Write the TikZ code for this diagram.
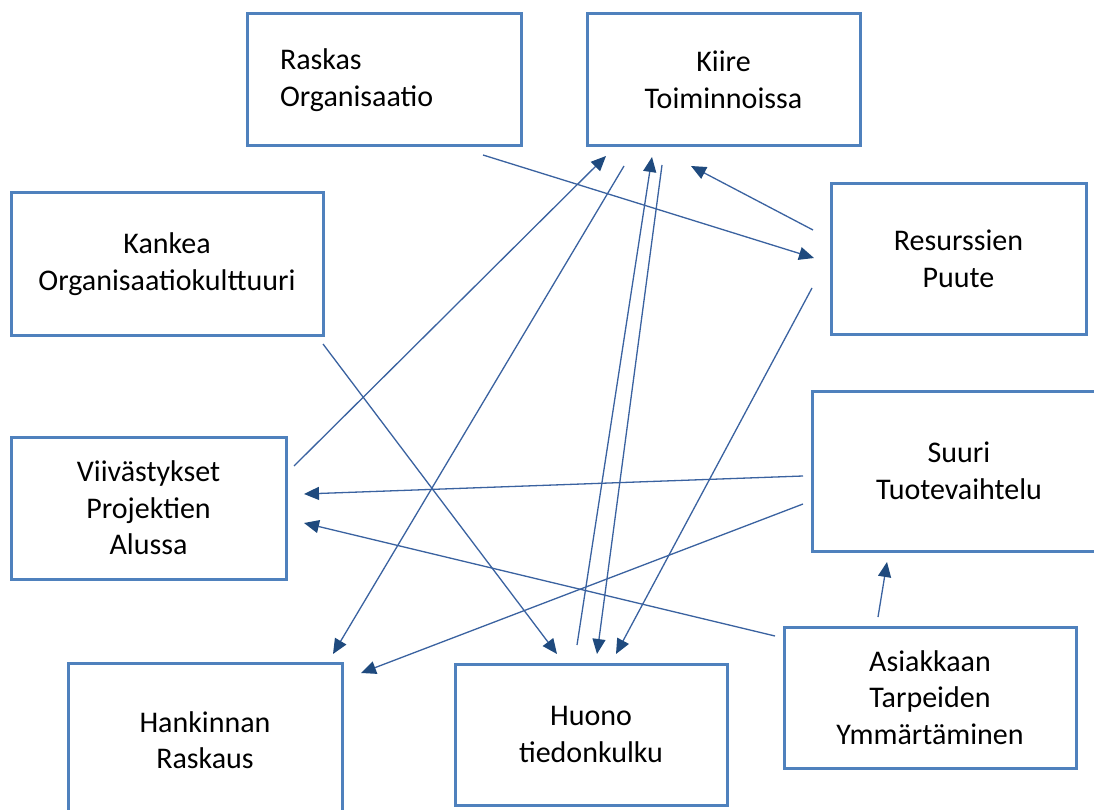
\documentclass[tikz,border=0pt]{standalone}
\usepackage{fontspec}
\setmainfont{Carlito}
\usetikzlibrary{arrows.meta}
\definecolor{boxblue}{HTML}{4F81BD}
\definecolor{linkblue}{HTML}{3A62A0}
\definecolor{headblue}{HTML}{1F4A7E}
\tikzset{
  box/.style={draw=boxblue, line width=3pt, inner sep=0pt, align=center,
    font=\fontsize{30}{36.6}\selectfont, text=black},
  link/.style={draw=linkblue, line width=1.3pt,
    -{Triangle[length=15pt,width=13pt,color=headblue]}}
}
\begin{document}
\begin{tikzpicture}[x=1pt,y=-1pt]
\clip (0,0) rectangle (1094,810);
\fill[white] (0,0) rectangle (1094,810);
% boxes (centre, width, height in px)
\node[box, minimum width=274pt, minimum height=132pt, text width=208pt, align=left] (raskas) at (384,80) {Raskas\\Organisaatio};
\node[box, minimum width=273pt, minimum height=132pt] (kiire) at (723.5,80) {Kiire\\Toiminnoissa};
\node[box, minimum width=312pt, minimum height=142pt] (kankea) at (167,264) {Kankea\\Organisaatiokulttuuri};
\node[box, minimum width=255pt, minimum height=150pt] (resurssit) at (958.5,259) {Resurssien\\Puute};
\node[box, minimum width=275pt, minimum height=142pt] (viivastys) at (148.5,508) {Viivästykset\\Projektien\\Alussa};
\node[box, minimum width=294pt, minimum height=160pt] (suuri) at (959,471) {Suuri\\Tuotevaihtelu};
\node[box, minimum width=274pt, minimum height=154pt] (hankinta) at (205,740) {Hankinnan\\Raskaus};
\node[box, minimum width=272pt, minimum height=141pt] (huono) at (591,734.5) {Huono\\tiedonkulku};
\node[box, minimum width=292pt, minimum height=141pt] (asiakas) at (930,697.5) {Asiakkaan\\Tarpeiden\\Ymmärtäminen};
% free connector ends
\coordinate (a1) at (483,155);  \coordinate (a2) at (814,258);
\coordinate (b1) at (294,466);  \coordinate (b2) at (606,156);
\coordinate (c1) at (624,166);  \coordinate (c2) at (333,654);
\coordinate (d1) at (577,645);  \coordinate (d2) at (652,157);
\coordinate (e1) at (662,165);  \coordinate (e2) at (597,654);
\coordinate (f1) at (813,230);  \coordinate (f2) at (691,166);
\coordinate (g1) at (812,288);  \coordinate (g2) at (616,654);
\coordinate (h1) at (323,344);  \coordinate (h2) at (557,654);
\coordinate (i1) at (803,476);  \coordinate (i2) at (304,494);
\coordinate (j1) at (803,504);  \coordinate (j2) at (361,673);
\coordinate (k1) at (775,636);  \coordinate (k2) at (304,523);
\coordinate (l1) at (878,617);  \coordinate (l2) at (887,562);
% connectors
\draw[link] (a1) -- (a2); % Raskas -> Resurssien
\draw[link] (b1) -- (b2); % Viivastykset -> Kiire
\draw[link] (c1) -- (c2); % Kiire -> Hankinnan
\draw[link] (d1) -- (d2); % Huono -> Kiire
\draw[link] (e1) -- (e2); % Kiire -> Huono
\draw[link] (f1) -- (f2); % Resurssien -> Kiire
\draw[link] (g1) -- (g2); % Resurssien -> Huono
\draw[link] (h1) -- (h2); % Kankea -> Huono
\draw[link] (i1) -- (i2); % Suuri -> Viivastykset
\draw[link] (j1) -- (j2); % Suuri -> Hankinnan
\draw[link] (k1) -- (k2); % Asiakkaan -> Viivastykset
\draw[link] (l1) -- (l2); % Asiakkaan -> Suuri
\end{tikzpicture}
\end{document}
